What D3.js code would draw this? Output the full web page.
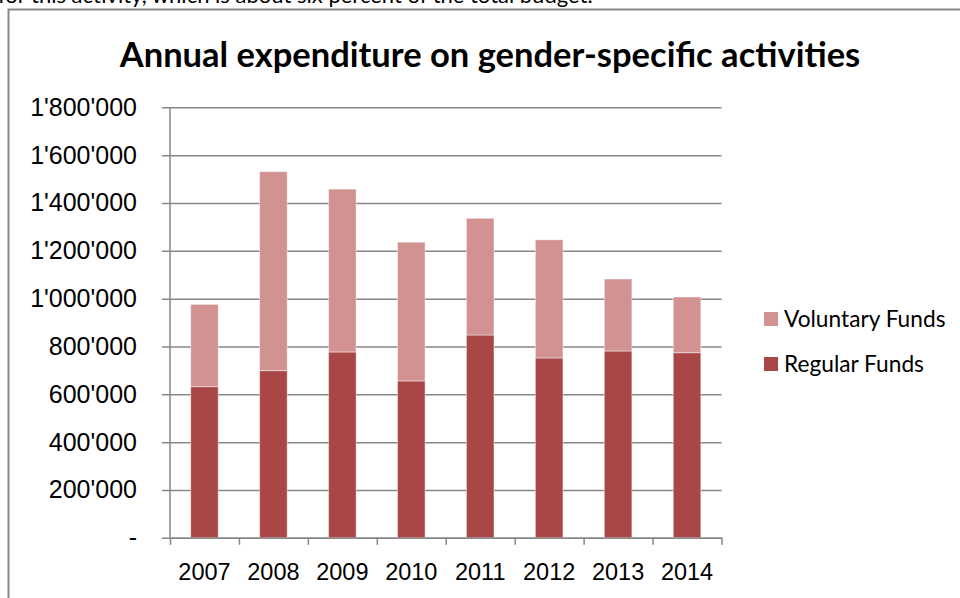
<!DOCTYPE html>
<html>
<head>
<meta charset="utf-8">
<script src="https://cdn.jsdelivr.net/npm/d3@7"></script>
<style>
  body { margin: 0; background: #fff; }
  svg { display: block; font-family: Lato, 'Open Sans', sans-serif; }
</style>
</head>
<body>
<div id="chart"></div>
<script>
const years = ['2007', '2008', '2009', '2010', '2011', '2012', '2013', '2014'];
const regularFunds = [632000, 699000, 777000, 656000, 848000, 752000, 781000, 774000];
const voluntaryFunds = [344000, 832000, 681000, 580000, 488000, 494000, 301000, 233000];
const yTicks = [0, 200000, 400000, 600000, 800000, 1000000, 1200000, 1400000, 1600000, 1800000];
const seriesNames = ['Voluntary Funds', 'Regular Funds'];

const W = 960, H = 598,
    margin = { top: 107.3, left: 170, right: 960 - 721.5, bottom: 598 - 537.8 },
    width = W - margin.left - margin.right,
    height = H - margin.top - margin.bottom,
    colors = { regular: '#a94746', voluntary: '#d19291' },
    gridColor = '#878787';

const svg = d3.select('#chart')
    .append('svg')
        .attr('width', W)
        .attr('height', H);

// line of page text above the chart, mostly scrolled out of view
svg.append('text')
    .attr('x', -2)
    .attr('y', 3)
    .attr('font-size', 22)
    .attr('fill', '#000')
    .text('for this activity, which is about six percent of the total budget.');

// chart frame
svg.append('rect')
    .attr('x', 8.5)
    .attr('y', 9.5)
    .attr('width', 1000)
    .attr('height', 700)
    .attr('fill', '#fff')
    .attr('stroke', '#888')
    .attr('stroke-width', 2);

svg.append('text')
    .attr('x', 490)
    .attr('y', 67)
    .attr('text-anchor', 'middle')
    .attr('font-size', 34.5)
    .attr('font-weight', 'bold')
    .attr('fill', '#000')
    .text('Annual expenditure on gender-specific activities');

const g = svg.append('g')
    .attr('transform', `translate(${margin.left}, ${margin.top})`);

const y = d3.scaleLinear()
    .domain([0, 1800000])
    .range([height, 0]);

const x = d3.scaleBand()
    .domain(years)
    .range([0, width])
    .paddingInner(0.6)
    .paddingOuter(0.3);

const fmt = v => v === 0 ? '-' : d3.format(',')(v).replace(/,/g, "'");

// y grid + labels
g.append('g')
    .attr('transform', 'translate(-8, 0)')
    .call(d3.axisLeft(y).tickValues(yTicks).tickFormat(fmt)
        .tickSize(-(width + 8)).tickPadding(25))
    .call(a => a.select('.domain').remove())
    .call(a => a.selectAll('line').attr('stroke', gridColor).attr('stroke-width', 1.5))
    .call(a => a.selectAll('text').attr('font-size', 25).attr('fill', '#000').attr('font-family', null));

// y axis line
g.append('line')
    .attr('x1', 0).attr('x2', 0)
    .attr('y1', 0).attr('y2', height)
    .attr('stroke', gridColor)
    .attr('stroke-width', 1.5);

// stacked bars
const stack = years.map((yr, i) => ({
    year: yr,
    parts: [
        { key: 'regular', y0: 0, y1: regularFunds[i] },
        { key: 'voluntary', y0: regularFunds[i], y1: regularFunds[i] + voluntaryFunds[i] }
    ]
}));

g.selectAll('.bar')
    .data(stack)
    .enter()
    .append('g')
        .attr('class', 'bar')
        .attr('transform', d => `translate(${x(d.year)}, 0)`)
    .selectAll('rect')
    .data(d => d.parts)
    .enter()
    .append('rect')
        .attr('x', 0)
        .attr('width', x.bandwidth())
        .attr('y', d => y(d.y1))
        .attr('height', d => y(d.y0) - y(d.y1))
        .attr('fill', d => colors[d.key])
        .attr('stroke', 'rgba(255,255,255,0.45)')
        .attr('stroke-width', 1);

// x axis with boundary ticks
const xb = d3.scaleLinear().domain([0, years.length]).range([0, width]);
g.append('g')
    .attr('transform', `translate(0, ${height})`)
    .call(d3.axisBottom(xb).tickValues(d3.range(years.length + 1)).tickFormat('')
        .tickSizeInner(7).tickSizeOuter(0))
    .call(a => a.selectAll('line, path').attr('stroke', gridColor).attr('stroke-width', 1.5));

g.append('g')
    .attr('transform', `translate(0, ${height})`)
    .call(d3.axisBottom(x).tickSize(0).tickPadding(25.5))
    .call(a => a.select('.domain').remove())
    .call(a => a.selectAll('text').attr('font-size', 23.5).attr('fill', '#000').attr('font-family', null));

// legend
const legend = svg.append('g')
    .attr('transform', 'translate(764, 312)');

legend.selectAll('g')
    .data(seriesNames)
    .enter()
    .append('g')
        .attr('transform', (d, i) => `translate(0, ${i * 45})`)
    .call(s => s.append('rect')
        .attr('width', 14).attr('height', 14)
        .attr('fill', (d, i) => i === 0 ? colors.voluntary : colors.regular))
    .call(s => s.append('text')
        .attr('x', 20).attr('y', 15)
        .attr('font-size', 22.7)
        .attr('fill', '#000')
        .text(d => d));
</script>
</body>
</html>
